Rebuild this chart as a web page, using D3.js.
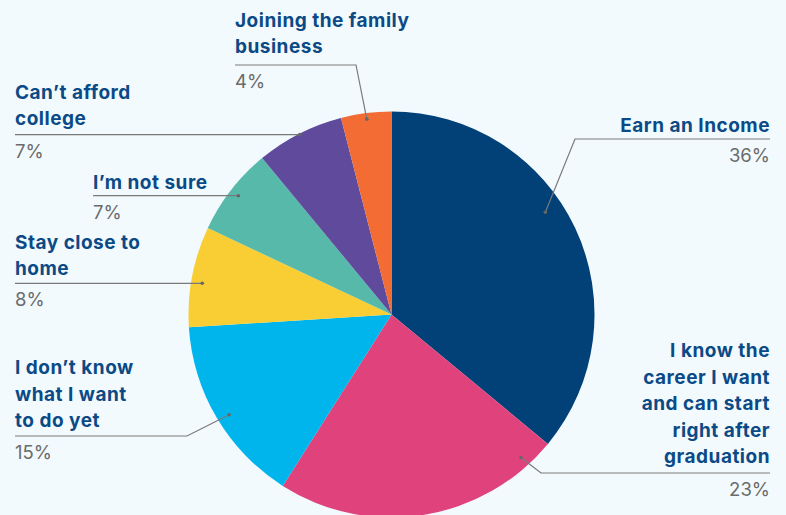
<!DOCTYPE html>
<html>
<head>
<meta charset="utf-8">
<script src="https://cdn.jsdelivr.net/npm/d3@7"></script>
<style>
  html, body { margin: 0; padding: 0; background: #f2fafd; }
  svg { display: block; }
</style>
</head>
<body>
<svg id="chart" width="786" height="515"></svg>
<script>
// Reasons for post-graduation plans (share of respondents, %)
const categories = [
  "Earn an Income",
  "I know the career I want and can start right after graduation",
  "I don\u2019t know what I want to do yet",
  "Stay close to home",
  "I\u2019m not sure",
  "Can\u2019t afford college",
  "Joining the family business"
];
const values = [36, 23, 15, 8, 7, 7, 4];
const valueLabels = ["36%", "23%", "15%", "8%", "7%", "7%", "4%"];
// Wrapped label lines as printed
const labelLines = [
  ["Earn an Income"],
  ["I know the", "career I want", "and can start", "right after", "graduation"],
  ["I don\u2019t know", "what I want", "to do yet"],
  ["Stay close to", "home"],
  ["I\u2019m not sure"],
  ["Can\u2019t afford", "college"],
  ["Joining the family", "business"]
];
const colors = ["#024078", "#e0437b", "#00b5ec", "#f9ce35", "#56b9aa", "#5f4a9b", "#f26c33"];

// Label placement: text x, last-line baseline y, alignment, elbow point,
// and where on the slice the leader line ends (fraction of the slice angle, fraction of radius)
const labelLayout = [
  { x: 770, y: 132, align: "end",   elbow: [575, 139], at: 0.435, rf: 0.91 },
  { x: 770, y: 463, align: "end",   elbow: [541, 473], at: 0.10,  rf: 0.95 },
  { x: 15,  y: 427, align: "start", elbow: [187, 436], at: 0.48,  rf: 0.94 },
  { x: 15,  y: 275, align: "start", elbow: null,       at: 0.45,  rf: 0.945 },
  { x: 93,  y: 189, align: "start", elbow: null,       at: 0.50,  rf: 0.955 },
  { x: 15,  y: 125, align: "start", elbow: null,       at: 0.50,  rf: 0.995 },
  { x: 235, y: 53,  align: "start", elbow: [356, 65],  at: 0.50,  rf: 0.97 }
];

const svg = d3.select("#chart");
const cx = 391.5, cy = 314.5, radius = 203;
const lineH = 26.5;

const data = categories.map((c, i) => ({ name: c, value: values[i], i }));

const pie = d3.pie().value(d => d.value).sort(null);
const arcs = pie(data);
const arc = d3.arc().innerRadius(0).outerRadius(radius);

const g = svg.append("g").attr("transform", `translate(${cx},${cy})`);
g.selectAll("path.slice")
  .data(arcs)
  .join("path")
  .attr("class", "slice")
  .attr("d", arc)
  .attr("fill", d => colors[d.index]);

// Labels with leader lines
const labels = svg.append("g");
arcs.forEach((a, i) => {
  const L = labelLayout[i];
  const ang = a.startAngle + L.at * (a.endAngle - a.startAngle);
  const r = radius * L.rf;
  const px = cx + r * Math.sin(ang);
  const py = cy - r * Math.cos(ang);
  const ruleY = L.elbow ? L.elbow[1] : py;
  const pts = [[L.x, ruleY]];
  if (L.elbow) pts.push(L.elbow);
  pts.push([px, py]);

  labels.append("path")
    .attr("d", d3.line()(pts))
    .attr("fill", "none")
    .attr("stroke", "#7a7a7a")
    .attr("stroke-width", 1.2);
  labels.append("circle")
    .attr("cx", px).attr("cy", py).attr("r", 1.8)
    .attr("fill", "#666");

  const lines = labelLines[i];
  const n = lines.length;
  const t = labels.append("text")
    .attr("text-anchor", L.align)
    .attr("font-family", "Inter, 'Noto Sans', sans-serif")
    .attr("font-weight", 700)
    .attr("font-size", 19)
    .attr("letter-spacing", 0.5)
    .attr("fill", "#0b4a86");
  lines.forEach((ln, k) => {
    t.append("tspan")
      .attr("x", L.x)
      .attr("y", L.y - (n - 1 - k) * lineH)
      .text(ln);
  });

  labels.append("text")
    .attr("x", L.x)
    .attr("y", ruleY + 23)
    .attr("text-anchor", L.align)
    .attr("font-family", "Inter, 'Noto Sans', sans-serif")
    .attr("font-weight", 400)
    .attr("font-size", 18.5)
    .attr("fill", "#6b6b6b")
    .text(valueLabels[i]);
});
</script>
</body>
</html>
